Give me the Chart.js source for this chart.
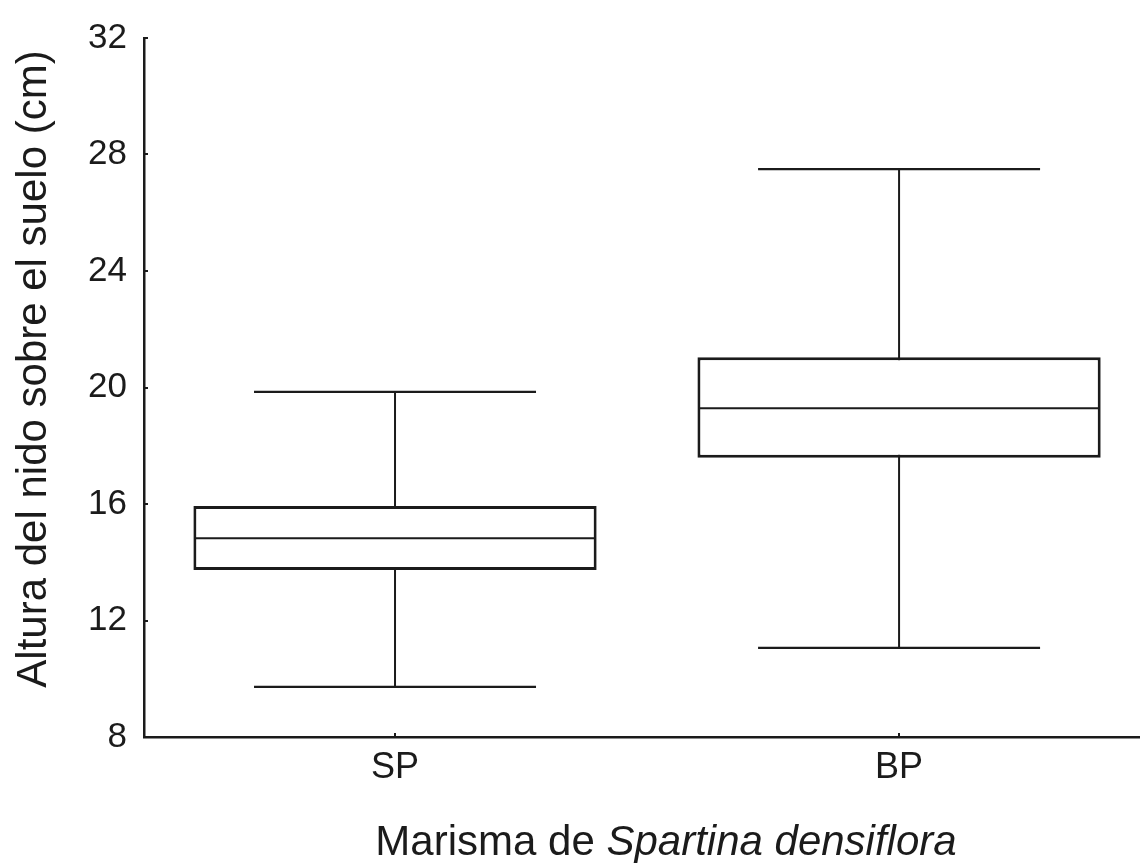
<!DOCTYPE html>
<html lang="es">
<head>
<meta charset="utf-8">
<title>Altura del nido sobre el suelo</title>
<script src="https://cdn.jsdelivr.net/npm/chart.js@4.4.1/dist/chart.umd.min.js"></script>
<style>
  html, body { margin: 0; padding: 0; background: #ffffff; }
  #wrap { width: 1140px; height: 863px; }
  canvas { display: block; }
</style>
</head>
<body>
<div id="wrap"><canvas id="chart" width="1140" height="863"></canvas></div>
<script>
// Box-plot summary per marsh zone (cm)
const categories   = ['SP', 'BP'];
const whiskerLow   = [9.72, 11.06];
const quartileLow  = [13.73, 17.59];
const medians      = [14.82, 19.29];
const quartileHigh = [15.93, 21.04];
const whiskerHigh  = [19.85, 27.5];
const yTicks       = [8, 12, 16, 20, 24, 28, 32];

const yTitle = 'Altura del nido sobre el suelo (cm)';
const xTitleParts = [
  { text: 'Marisma de ', italic: false },
  { text: 'Spartina densiflora', italic: true }
];

const ink = '#1b1b1b';
const family = '"Liberation Sans", Arial, Helvetica, sans-serif';

// Whisker stems, boxes, medians and caps all placed at category index i
const stemData = categories.map((c, i) => ({ x: i, y: [whiskerLow[i], whiskerHigh[i]] }));
const boxData  = categories.map((c, i) => ({ x: i, y: [quartileLow[i], quartileHigh[i]] }));
const medData  = categories.map((c, i) => ({ x: i, y: medians[i] }));
const capData  = categories.flatMap((c, i) => [{ x: i, y: whiskerLow[i] }, { x: i, y: whiskerHigh[i] }]);

// Inward tick marks plus the two axis titles
const axisDecor = {
  id: 'axisDecor',
  afterDraw(chart) {
    const { ctx, chartArea: a, scales: { x, y } } = chart;
    ctx.save();
    ctx.strokeStyle = ink;
    ctx.lineWidth = 2;
    ctx.beginPath();
    y.ticks.forEach(t => {
      const py = Math.round(y.getPixelForValue(t.value));
      ctx.moveTo(a.left, py);
      ctx.lineTo(a.left + 4, py);
    });
    x.ticks.forEach(t => {
      const px = Math.round(x.getPixelForValue(t.value));
      ctx.moveTo(px, a.bottom);
      ctx.lineTo(px, a.bottom - 4);
    });
    ctx.stroke();

    ctx.fillStyle = ink;
    ctx.textBaseline = 'alphabetic';

    // y title, rotated
    ctx.save();
    ctx.font = '42px ' + family;
    ctx.translate(46, 369);
    ctx.rotate(-Math.PI / 2);
    ctx.textAlign = 'center';
    ctx.fillText(yTitle, 0, 0);
    ctx.restore();

    // x title, mixed roman / italic
    ctx.textAlign = 'left';
    const fonts = xTitleParts.map(p => (p.italic ? 'italic ' : '') + '42px ' + family);
    const widths = xTitleParts.map((p, k) => { ctx.font = fonts[k]; return ctx.measureText(p.text).width; });
    const total = widths.reduce((s, w) => s + w, 0);
    let cx = 666 - total / 2;
    xTitleParts.forEach((p, k) => {
      ctx.font = fonts[k];
      ctx.fillText(p.text, cx, 855);
      cx += widths[k];
    });
    ctx.restore();
  }
};

new Chart(document.getElementById('chart'), {
  type: 'bar',
  data: {
    datasets: [
      {
        type: 'scatter',
        data: medData,
        pointStyle: 'line',
        pointRadius: 200,
        borderColor: ink,
        borderWidth: 2,
        order: 0
      },
      {
        type: 'bar',
        data: boxData,
        backgroundColor: '#ffffff',
        borderColor: ink,
        borderWidth: 3,
        borderSkipped: false,
        inflateAmount: 0,
        barPercentage: 0.8,
        categoryPercentage: 1,
        grouped: false,
        order: 1
      },
      {
        type: 'bar',
        data: stemData,
        backgroundColor: ink,
        borderWidth: 0,
        inflateAmount: 0,
        barThickness: 2,
        grouped: false,
        order: 2
      },
      {
        type: 'scatter',
        data: capData,
        pointStyle: 'line',
        pointRadius: 141,
        borderColor: ink,
        borderWidth: 2.3,
        order: 3
      }
    ]
  },
  options: {
    responsive: false,
    animation: false,
    events: [],
    layout: { autoPadding: false, padding: { top: 32, right: 0, bottom: 0, left: 0 } },
    plugins: {
      legend: { display: false },
      tooltip: { enabled: false },
      title: { display: false }
    },
    scales: {
      x: {
        type: 'linear',
        offset: false,
        min: -0.498,
        max: 1.478,
        afterBuildTicks: s => { s.ticks = categories.map((c, i) => ({ value: i })); },
        afterFit: s => { s.height = 126; },
        ticks: {
          callback: v => categories[v] ?? '',
          color: ink,
          font: { family: family, size: 36 },
          padding: 9,
          autoSkip: false,
          maxRotation: 0
        },
        grid: { display: false, drawTicks: false },
        border: { display: true, color: ink, width: 2.5 }
      },
      y: {
        type: 'linear',
        min: 8,
        max: 32,
        afterBuildTicks: s => { s.ticks = yTicks.map(v => ({ value: v })); },
        afterFit: s => { s.width = 144; },
        ticks: {
          color: ink,
          font: { family: family, size: 35 },
          padding: 17
        },
        grid: { display: false, drawTicks: false },
        border: { display: true, color: ink, width: 2.5 }
      }
    }
  },
  plugins: [axisDecor]
});
</script>
</body>
</html>
